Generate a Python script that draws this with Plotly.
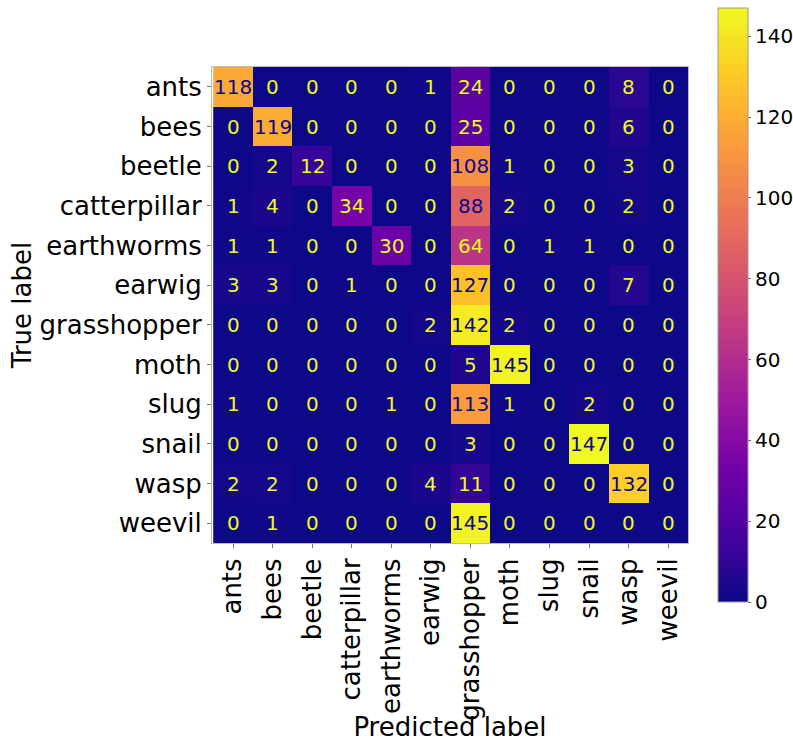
import plotly.graph_objects as go

labels = ["ants", "bees", "beetle", "catterpillar", "earthworms", "earwig",
          "grasshopper", "moth", "slug", "snail", "wasp", "weevil"]

counts = [
    [118, 0, 0, 0, 0, 1, 24, 0, 0, 0, 8, 0],
    [0, 119, 0, 0, 0, 0, 25, 0, 0, 0, 6, 0],
    [0, 2, 12, 0, 0, 0, 108, 1, 0, 0, 3, 0],
    [1, 4, 0, 34, 0, 0, 88, 2, 0, 0, 2, 0],
    [1, 1, 0, 0, 30, 0, 64, 0, 1, 1, 0, 0],
    [3, 3, 0, 1, 0, 0, 127, 0, 0, 0, 7, 0],
    [0, 0, 0, 0, 0, 2, 142, 2, 0, 0, 0, 0],
    [0, 0, 0, 0, 0, 0, 5, 145, 0, 0, 0, 0],
    [1, 0, 0, 0, 1, 0, 113, 1, 0, 2, 0, 0],
    [0, 0, 0, 0, 0, 0, 3, 0, 0, 147, 0, 0],
    [2, 2, 0, 0, 0, 4, 11, 0, 0, 0, 132, 0],
    [0, 1, 0, 0, 0, 0, 145, 0, 0, 0, 0, 0],
]

FONT = "DejaVu Sans"
vmax = max(max(r) for r in counts)
threshold = vmax / 2.0
DARK = "#0d0887"
LIGHT = "#f0f921"

fig = go.Figure(go.Heatmap(
    z=counts, x=labels, y=labels,
    colorscale="Plasma", zmin=0, zmax=vmax,
    xgap=0, ygap=0,
    colorbar=dict(
        thickness=30, len=594 / 476, lenmode="fraction",
        x=1.063, xanchor="left", y=0.5, yanchor="middle",
        xpad=0, ypad=0,
        outlinecolor="#999999", outlinewidth=1,
        tickvals=[0, 20, 40, 60, 80, 100, 120, 140],
        ticks="outside", ticklen=3, tickcolor="#666",
        tickfont=dict(family=FONT, size=20, color="black"),
    ),
))

annotations = []
for i, row in enumerate(counts):
    for j, v in enumerate(row):
        annotations.append(dict(
            x=labels[j], y=labels[i], text=str(v), showarrow=False,
            font=dict(family=FONT, size=20, color=DARK if v > threshold else LIGHT),
        ))

fig.update_layout(
    width=793, height=742,
    margin=dict(l=212, r=105, t=67, b=199, autoexpand=False),
    paper_bgcolor="white", plot_bgcolor="white",
    annotations=annotations,
    xaxis=dict(
        tickangle=-90, ticks="outside", ticklen=4, tickcolor="#777",
        tickfont=dict(family=FONT, size=26, color="black"),
        title=dict(text="Predicted label", font=dict(family=FONT, size=26, color="black"), standoff=0),
        showline=True, linecolor="#bbbbbb", mirror=True, showgrid=False,
        automargin=False,
    ),
    yaxis=dict(
        autorange="reversed", ticks="outside", ticklen=4, tickcolor="#777",
        tickfont=dict(family=FONT, size=26, color="black"),
        title=dict(text="True label", font=dict(family=FONT, size=26, color="black"), standoff=0),
        showline=True, linecolor="#bbbbbb", mirror=True, showgrid=False,
        automargin=False,
    ),
)

fig.write_html("out.html")
